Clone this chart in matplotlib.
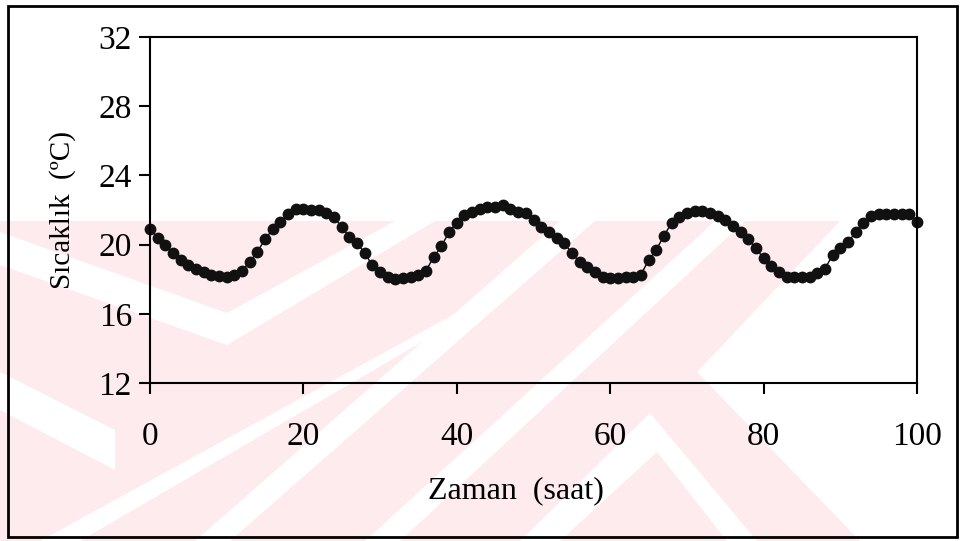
import matplotlib.pyplot as plt
from matplotlib.patches import Rectangle, Polygon

plt.rcParams['font.family'] = ['Liberation Serif', 'DejaVu Serif']

# hourly temperature readings
hours = list(range(0, 101))
temp = [20.9, 20.4, 20.0, 19.5, 19.1, 18.8, 18.6, 18.4, 18.25, 18.2,
        18.1, 18.25, 18.5, 19.0, 19.6, 20.3, 20.9, 21.3, 21.75, 22.05,
        22.05, 22.0, 22.0, 21.8, 21.6, 21.0, 20.45, 20.1, 19.5, 18.8,
        18.4, 18.15, 18.0, 18.05, 18.1, 18.25, 18.5, 19.3, 19.9, 20.75,
        21.25, 21.7, 21.9, 22.05, 22.2, 22.2, 22.3, 22.05, 21.9, 21.85,
        21.45, 21.0, 20.75, 20.4, 20.1, 19.5, 19.0, 18.7, 18.4, 18.15,
        18.05, 18.05, 18.1, 18.15, 18.25, 19.1, 19.7, 20.5, 21.25, 21.6,
        21.8, 21.95, 21.95, 21.8, 21.65, 21.4, 21.05, 20.75, 20.3, 19.8,
        19.2, 18.75, 18.4, 18.15, 18.1, 18.1, 18.15, 18.35, 18.6, 19.4,
        19.8, 20.15, 20.7, 21.25, 21.65, 21.75, 21.75, 21.75, 21.75, 21.75,
        21.3]

W, H = 961, 541
fig = plt.figure(figsize=(W / 100, H / 100), dpi=100)

# faint watermark in the background (pixel coords)
pink = '#fdebee'
def px(pts):
    return [(x / W, 1 - y / H) for x, y in pts]
fig.patches.append(Polygon(px([(0, 221), (840, 221), (697, 372), (860, 541), (0, 541)]),
                           closed=True, transform=fig.transFigure,
                           facecolor=pink, edgecolor='none', zorder=-10))
stripes = [[(0, 232), (227, 313), (227, 345), (0, 265)],
           [(227, 313), (395, 221), (435, 221), (227, 345)],
           [(0, 372), (115, 430), (115, 470), (0, 410)],
           [(480, 300), (520, 285), (80, 541), (40, 541)],
           [(560, 221), (595, 221), (230, 541), (195, 541)],
           [(715, 221), (745, 221), (400, 541), (365, 541)],
           [(650, 413), (670, 440), (560, 541), (520, 541)],
           [(650, 413), (757, 541), (727, 541), (640, 430)]]
for s in stripes:
    fig.patches.append(Polygon(px(s), closed=True, transform=fig.transFigure,
                               facecolor='white', edgecolor='none', zorder=-9))

fig.patches.append(Rectangle((8 / W, 1 - 537 / H), 949 / W, 531 / H,
                             transform=fig.transFigure, fill=False,
                             edgecolor='black', linewidth=2, zorder=1))

ax = fig.add_axes([150 / W, 1 - 383 / H, 767 / W, 346 / H])
ax.set_facecolor('none')
ax.plot(hours, temp, color='black', linewidth=1, marker='o',
        markersize=7.5, markerfacecolor='#111111', markeredgecolor='#111111',
        clip_on=False)

ax.set_xlim(0, 100)
ax.set_ylim(12, 32)
ax.set_xticks([0, 20, 40, 60, 80, 100])
ax.set_yticks([12, 16, 20, 24, 28, 32])
for sp in ax.spines.values():
    sp.set_linewidth(1.5)
ax.tick_params(axis='y', direction='out', length=8, width=1.5, labelsize=24, pad=5)
ax.tick_params(axis='x', direction='out', length=8, width=1.5, labelsize=24, pad=20)

ax.set_xlabel('Zaman  (saat)', fontsize=23)
ax.xaxis.set_label_coords(0.477, -0.27)
ax.set_ylabel('Sıcaklık  (ºC)', fontsize=21, labelpad=16)

plt.savefig('out.png', dpi=100)
